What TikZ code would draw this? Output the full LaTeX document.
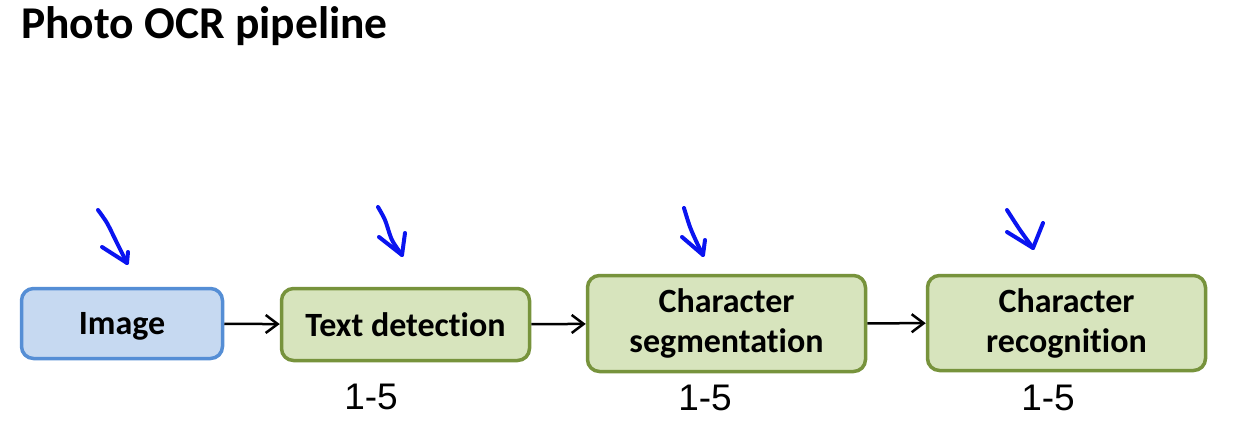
\documentclass[tikz,border=0pt]{standalone}
\usepackage{fontspec}
\setmainfont{Carlito}[Ligatures=NoCommon]
\newfontfamily\handfont{Liberation Sans}
\usetikzlibrary{arrows.meta}
\definecolor{boxblue}{HTML}{C6D9F1}
\definecolor{lineblue}{HTML}{558ED5}
\definecolor{boxgreen}{HTML}{D7E4BD}
\definecolor{linegreen}{HTML}{77933C}
\definecolor{penblue}{HTML}{0A14F0}
\tikzset{
    stage/.style={draw=linegreen, fill=boxgreen, line width=3.5pt, rounded corners=12pt,
        align=center, inner sep=0pt, font=\fontsize{34}{40}\selectfont\bfseries},
    input/.style={stage, draw=lineblue, fill=boxblue},
    flow/.style={line width=2.5pt, -{Straight Barb[length=12pt,width=18pt,line width=2.5pt]}},
    pen/.style={penblue, line width=4pt, line cap=round, line join=round},
    score/.style={font=\handfont\fontsize{37}{37}\selectfont}
}
\begin{document}
\begin{tikzpicture}[x=1pt, y=-1pt]
    \useasboundingbox (0,0) rectangle (1238,444);
    \node[anchor=base west, inner sep=0pt, font=\fontsize{45.5}{50}\selectfont\bfseries] (title) at (21,38) {Photo OCR pipeline};

    % Pipeline stages
    \node[input, text depth=0pt, minimum width=201pt, minimum height=70pt] (img) at (122,323.5) {Image};
    \node[stage, minimum width=248pt, minimum height=72pt] (det) at (405.5,324.5) {Text detection};
    \node[stage, minimum width=278pt, minimum height=96pt] (seg) at (726.5,323.5) {Character\\segmentation};
    \node[stage, minimum width=278pt, minimum height=95pt] (rec) at (1066.5,323) {Character\\recognition};

    \draw[flow] (img) -- (det);
    \draw[flow] (det) -- (seg);
    \draw[flow] (seg) -- (rec);

    % Hand-drawn marks
    \draw[pen] plot[smooth] coordinates {(98,210) (107,223) (117,243) (127,263)};
    \draw[pen] (102,247) -- (127,263) -- (128,252);
    \draw[pen] plot[smooth] coordinates {(378,207) (385,220) (392,240) (402,255)};
    \draw[pen] (379,237) -- (402,255) -- (405,233);
    \draw[pen] plot[smooth] coordinates {(684,208) (690,227) (697,243) (703,255)};
    \draw[pen] (682,237) -- (703,255) -- (705,240);
    \draw[pen] plot[smooth] coordinates {(1007,210) (1020,230) (1033,248)};
    \draw[pen] (1007,232) -- (1033,248) -- (1043,223);

    \node[score] (detscore) at (371,397) {1-5};
    \node[score] (segscore) at (705,398) {1-5};
    \node[score] (recscore) at (1048,398) {1-5};
\end{tikzpicture}
\end{document}
